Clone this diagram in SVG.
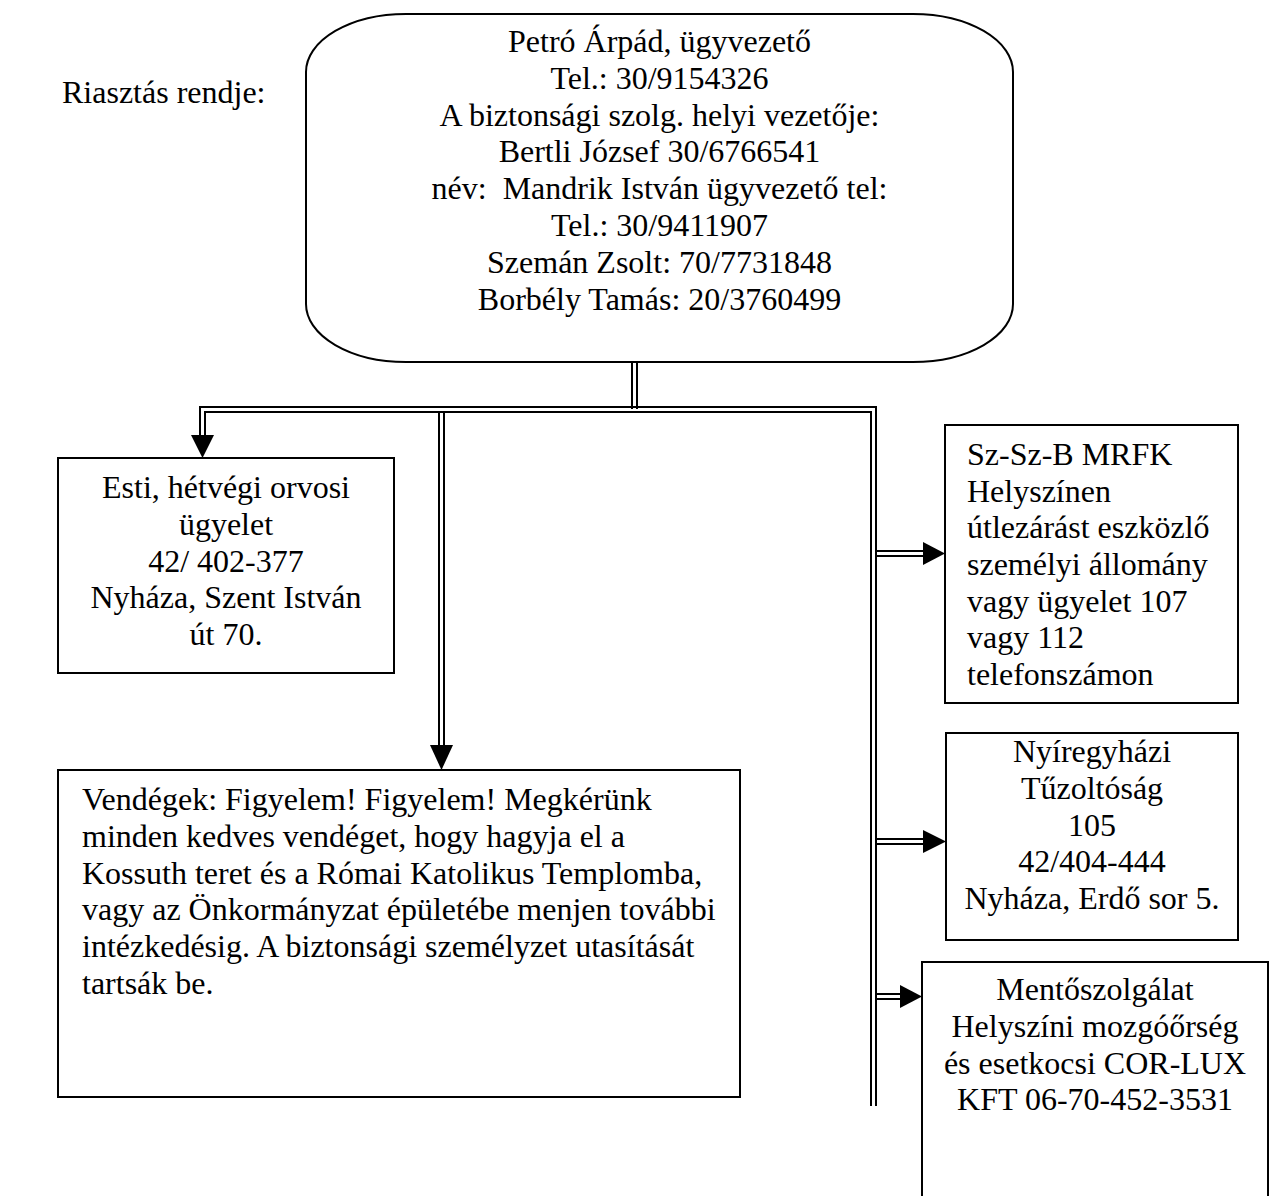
<svg xmlns="http://www.w3.org/2000/svg" width="1272" height="1196" viewBox="0 0 1272 1196">
<style>
text{font-family:"Liberation Serif","Times New Roman",serif;font-size:32px;fill:#000}
.c{text-anchor:middle}
.box{fill:#fff;stroke:#000;stroke-width:2}
.ln{stroke:#000;stroke-width:2;fill:none}
.ah{fill:#000}
</style>
<rect width="1272" height="1196" fill="#fff"/>
<text x="62" y="103">Riasztás rendje:</text>
<g id="node-top">
<rect class="box" x="306" y="14" width="707" height="348" rx="100" ry="58"/>
<text class="c" x="659.5"><tspan x="659.5" y="52">Petró Árpád, ügyvezető</tspan><tspan x="659.5" y="88.8">Tel.: 30/9154326</tspan><tspan x="659.5" y="125.6">A biztonsági szolg. helyi vezetője:</tspan><tspan x="659.5" y="162.4">Bertli József 30/6766541</tspan><tspan x="659.5" y="199.2">név:&#160; Mandrik István ügyvezető tel:</tspan><tspan x="659.5" y="236">Tel.: 30/9411907</tspan><tspan x="659.5" y="272.8">Szemán Zsolt: 70/7731848</tspan><tspan x="659.5" y="309.6">Borbély Tamás: 20/3760499</tspan></text>
</g>
<g id="node-esti">
<rect class="box" x="58" y="458" width="336" height="215"/>
<text class="c"><tspan x="226" y="498">Esti, hétvégi orvosi</tspan><tspan x="226" y="535">ügyelet</tspan><tspan x="226" y="572">42/ 402-377</tspan><tspan x="226" y="608">Nyháza, Szent István</tspan><tspan x="226" y="645">út 70.</tspan></text>
</g>
<g id="node-vendegek">
<rect class="box" x="58" y="770" width="682" height="327"/>
<text><tspan x="82" y="810">Vendégek: Figyelem! Figyelem! Megkérünk</tspan><tspan x="82" y="847">minden kedves vendéget, hogy hagyja el a</tspan><tspan x="82" y="884">Kossuth teret és a Római Katolikus Templomba,</tspan><tspan x="82" y="920">vagy az Önkormányzat épületébe menjen további</tspan><tspan x="82" y="957">intézkedésig. A biztonsági személyzet utasítását</tspan><tspan x="82" y="994">tartsák be.</tspan></text>
</g>
<g id="node-mrfk">
<rect class="box" x="945" y="425" width="293" height="278"/>
<text><tspan x="967" y="465">Sz-Sz-B MRFK</tspan><tspan x="967" y="502">Helyszínen</tspan><tspan x="967" y="538">útlezárást eszközlő</tspan><tspan x="967" y="575">személyi állomány</tspan><tspan x="967" y="612">vagy ügyelet 107</tspan><tspan x="967" y="648">vagy 112</tspan><tspan x="967" y="685">telefonszámon</tspan></text>
</g>
<g id="node-tuzoltosag">
<rect class="box" x="946" y="733" width="292" height="207"/>
<text class="c"><tspan x="1092" y="762">Nyíregyházi</tspan><tspan x="1092" y="799">Tűzoltóság</tspan><tspan x="1092" y="836">105</tspan><tspan x="1092" y="872">42/404-444</tspan><tspan x="1092" y="909">Nyháza, Erdő sor 5.</tspan></text>
</g>
<g id="node-mento">
<rect class="box" x="922" y="962" width="346" height="260"/>
<text class="c"><tspan x="1095" y="1000">Mentőszolgálat</tspan><tspan x="1095" y="1037">Helyszíni mozgóőrség</tspan><tspan x="1095" y="1074">és esetkocsi COR-LUX</tspan><tspan x="1095" y="1110">KFT 06-70-452-3531</tspan></text>
</g>
<g id="connectors">
<path class="ln" d="M632 362V409M637 362V409"/>
<path class="ln" d="M200 436V407H876V1106M205 436V412H871V1106"/>
<polygon class="ah" points="191,435 214,435 202.5,458"/>
<path class="ln" d="M439 412V746M444 412V746"/>
<polygon class="ah" points="430,745 453,745 441.5,770"/>
<path class="ln" d="M876 551H924M876 556H924"/>
<polygon class="ah" points="923,542 923,565 945,553.5"/>
<path class="ln" d="M876 839H924M876 844H924"/>
<polygon class="ah" points="923,830 923,853 946,841.5"/>
<path class="ln" d="M876 994H901M876 999H901"/>
<polygon class="ah" points="900,985 900,1008 922,996.5"/>
</g>
</svg>
